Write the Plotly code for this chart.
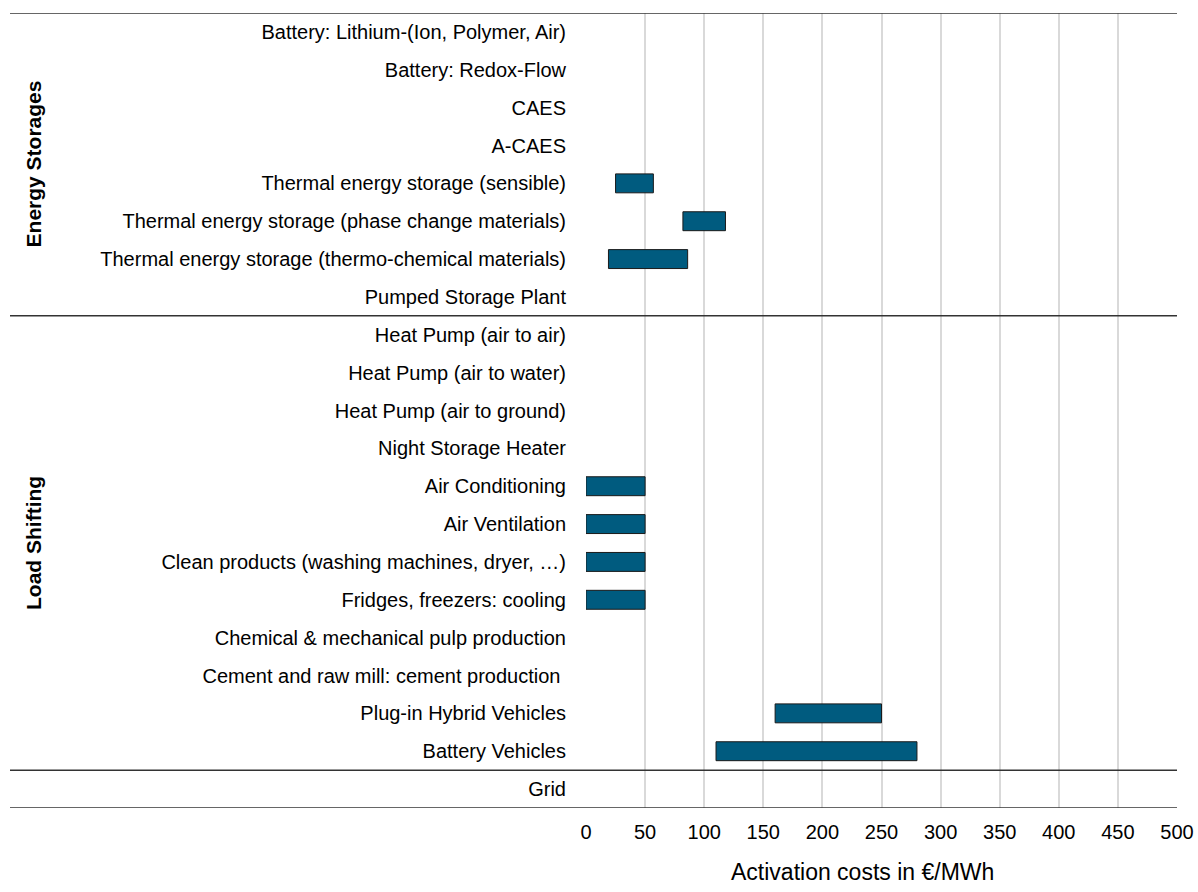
import plotly.graph_objects as go

# Technologies, listed top to bottom
categories = [
    "Battery: Lithium-(Ion, Polymer, Air)",
    "Battery: Redox-Flow",
    "CAES",
    "A-CAES",
    "Thermal energy storage (sensible)",
    "Thermal energy storage (phase change materials)",
    "Thermal energy storage (thermo-chemical materials)",
    "Pumped Storage Plant",
    "Heat Pump (air to air)",
    "Heat Pump (air to water)",
    "Heat Pump (air to ground)",
    "Night Storage Heater",
    "Air Conditioning",
    "Air Ventilation",
    "Clean products (washing machines, dryer, …)",
    "Fridges, freezers: cooling",
    "Chemical & mechanical pulp production",
    "Cement and raw mill: cement production ",
    "Plug-in Hybrid Vehicles",
    "Battery Vehicles",
    "Grid",
]

# Activation cost range in €/MWh (None = no data)
cost_low = [None, None, None, None, 25, 82, 19, None,
            None, None, None, None, 0, 0, 0, 0, None, None, 160, 110,
            None]
cost_high = [None, None, None, None, 57, 118, 86, None,
             None, None, None, None, 50, 50, 50, 50, None, None, 250, 280,
             None]

# Group names and the category index ranges they cover
groups = ["Energy Storages", "Load Shifting", ""]
group_first = [0, 8, 20]
group_last = [7, 19, 20]

x_ticks = [0, 50, 100, 150, 200, 250, 300, 350, 400, 450, 500]
x_title = "Activation costs in €/MWh"

widths = [None if lo is None else hi - lo for lo, hi in zip(cost_low, cost_high)]

W, H = 1198, 892
ML, MR, MT, MB = 586, 21, 13, 84
plot_w = W - ML - MR
plot_h = H - MT - MB
plot_bottom = MT + plot_h

fig = go.Figure()
fig.add_trace(go.Bar(
    y=categories,
    x=widths,
    base=cost_low,
    orientation="h",
    width=0.5,
    marker=dict(color="#005B7F", line=dict(color="#1a1a1a", width=1)),
    hoverinfo="skip",
    showlegend=False,
))

font = "Liberation Sans, Arial, sans-serif"

# Separator lines between groups, extending under the label column
line_left = (10 - ML) / plot_w
shapes = []
bounds = [group_first[0] - 0.5] + [g + 0.5 for g in group_last]
for b in bounds:
    shapes.append(dict(type="line", xref="paper", yref="y",
                       x0=line_left, x1=1.0, y0=b, y1=b,
                       line=dict(color="#333333", width=1.5)))

annotations = []
label_x = (33 - ML) / plot_w
for name, a, b in zip(groups, group_first, group_last):
    if not name:
        continue
    annotations.append(dict(
        text="<b>%s</b>" % name, xref="paper", yref="y",
        x=label_x, y=(a + b) / 2, textangle=-90, showarrow=False,
        xanchor="center", yanchor="middle",
        font=dict(family=font, size=21, color="#000000"),
    ))

# Axis title below the tick labels
annotations.append(dict(
    text=x_title, xref="paper", yref="paper",
    x=(862 - ML) / plot_w, y=(plot_bottom - 872) / plot_h,
    showarrow=False, xanchor="center", yanchor="middle",
    font=dict(family=font, size=23, color="#000000"),
))

fig.update_layout(
    width=W, height=H,
    margin=dict(l=ML, r=MR, t=MT, b=MB, autoexpand=False),
    plot_bgcolor="white", paper_bgcolor="white",
    bargap=0.5,
    xaxis=dict(
        range=[0, 500], tickvals=x_ticks,
        showgrid=True, gridcolor="#d9d9d9", gridwidth=1.5,
        zeroline=False, showline=False, ticks="",
        ticklabelstandoff=10,
        tickfont=dict(family=font, size=20, color="#000000"),
        fixedrange=True,
    ),
    yaxis=dict(
        type="category", categoryorder="array", categoryarray=categories,
        range=[len(categories) - 0.5, -0.5],
        showgrid=False, zeroline=False, showline=False, ticks="",
        ticklabelstandoff=19,
        tickfont=dict(family=font, size=20, color="#000000"),
        fixedrange=True,
    ),
    shapes=shapes,
    annotations=annotations,
)

fig.write_html("out.html")
